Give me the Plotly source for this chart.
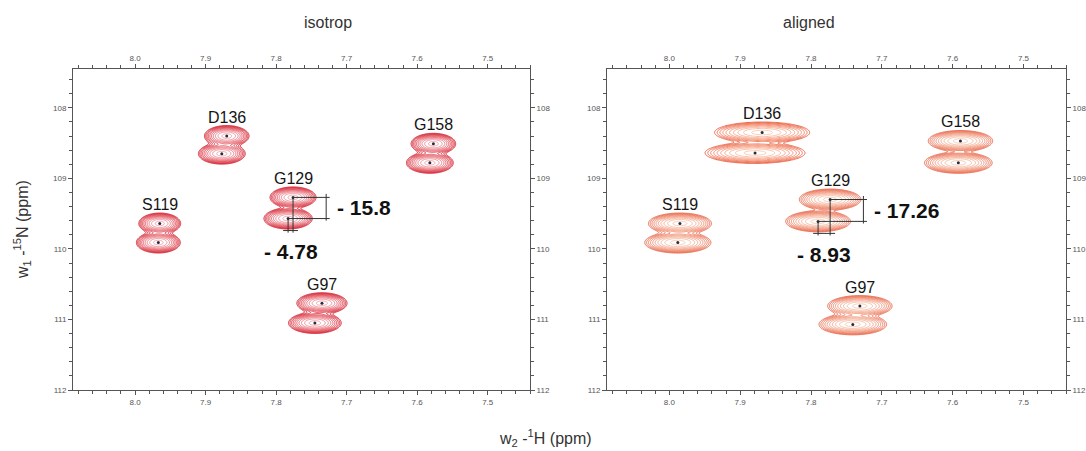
import numpy as np
import plotly.graph_objects as go

W, H = 1086, 451

peak_names = ["S119", "D136", "G129", "G158", "G97"]

# isotrop spectrum: 1H / 15N positions (ppm) of upper and lower doublet components
iso_h_upper = [7.965, 7.870, 7.776, 7.577, 7.735]
iso_n_upper = [109.64, 108.40, 109.27, 108.51, 110.77]
iso_h_lower = [7.967, 7.877, 7.783, 7.582, 7.745]
iso_n_lower = [109.91, 108.65, 109.57, 108.78, 111.05]
iso_h_halfwidth = [0.030, 0.032, 0.033, 0.032, 0.036]

# aligned spectrum
ali_h_upper = [7.985, 7.869, 7.773, 7.589, 7.731]
ali_n_upper = [109.64, 108.35, 109.30, 108.47, 110.81]
ali_h_lower = [7.988, 7.879, 7.790, 7.592, 7.741]
ali_n_lower = [109.91, 108.64, 109.61, 108.78, 111.07]
ali_h_halfwidth = [0.045, 0.068, 0.044, 0.046, 0.046]

n_halfheight = 0.15

iso_couplings = ["- 15.8", "- 4.78"]
ali_couplings = ["- 17.26", "- 8.93"]
coupled_peak = "G129"

panel_titles = ["isotrop", "aligned"]
h_range = [8.088, 7.44]
n_range = [112, 107.45]

# layout geometry (pixels)
PX_L = [73, 607]
PX_R = [530, 1066]
PY_T, PY_B = 69, 390

fig = go.Figure()

LEVELS = dict(start=0.15, end=3.2, size=0.33, coloring="lines", showlabels=False)


def add_panel(k, hu, nu, hl, nl, hw, colors, couplings):
    xa = "x" if k == 0 else "x2"
    ya = "y" if k == 0 else "y2"
    for i in range(len(peak_names)):
        r_out = np.sqrt(2 * 3.2)
        sxu = hw[i] / r_out
        sxl = hw[i] * 1.05 / r_out
        sy = n_halfheight / r_out
        xs = np.linspace(min(hu[i], hl[i]) - 4.5 * sxl, max(hu[i], hl[i]) + 4.5 * sxl, 170)
        ys = np.linspace(nu[i] - 4.5 * sy, nl[i] + 4.5 * sy, 160)
        X, Y = np.meshgrid(xs, ys)
        I = np.exp(-0.5 * (((X - hu[i]) / sxu) ** 2 + ((Y - nu[i]) / sy) ** 2)) + \
            np.exp(-0.5 * (((X - hl[i]) / sxl) ** 2 + ((Y - nl[i]) / sy) ** 2))
        Z = -np.log(np.maximum(I, 1e-12))
        fig.add_trace(go.Contour(
            x=xs, y=ys, z=Z, xaxis=xa, yaxis=ya, contours=LEVELS,
            colorscale=colors, zmin=0, zmax=3.2, showscale=False,
            line=dict(width=1), hoverinfo="skip"))
    fig.add_trace(go.Scatter(
        x=hu + hl, y=nu + nl, mode="markers", xaxis=xa, yaxis=ya,
        marker=dict(size=3, color="#2a2a3a"), hoverinfo="skip", showlegend=False))
    # peak labels
    for i, name in enumerate(peak_names):
        fig.add_annotation(x=hu[i], y=nu[i], xref=xa, yref=ya, text=name,
                           showarrow=False, yshift=19, yanchor="middle",
                           font=dict(family="Liberation Sans, Arial", size=16, color="#151515"))
    # coupling brackets on G129
    j = peak_names.index(coupled_peak)
    xu, yu, xl, yl = hu[j], nu[j], hl[j], nl[j]
    vx = xu - 0.047
    lc = dict(color="#333333", width=1)
    shapes = [
        (xu, yu, vx - 0.005, yu),
        (xl, yl, vx - 0.005, yl),
        (vx, yu - 0.05, vx, yl + 0.03),
        (xu, yu, xu, yl + 0.2),
        (xl, yl, xl, yl + 0.2),
        (xl + 0.007, yl + 0.17, xu - 0.007, yl + 0.17),
    ]
    for (x0, y0, x1, y1) in shapes:
        fig.add_shape(type="line", x0=x0, y0=y0, x1=x1, y1=y1, xref=xa, yref=ya, line=lc)
    bold = dict(family="Liberation Sans, Arial", size=21, color="#111111", weight="bold")
    fig.add_annotation(x=vx, y=(yu + yl) / 2, xref=xa, yref=ya, text=couplings[0],
                       showarrow=False, xanchor="left", xshift=9, yanchor="middle", font=bold)
    fig.add_annotation(x=(xu + xl) / 2, y=yl + 0.17, xref=xa, yref=ya, text=couplings[1],
                       showarrow=False, yshift=-21, yanchor="middle", font=bold)
    # invisible anchor for overlay axes (top / right tick labels)
    fig.add_trace(go.Scatter(x=hu, y=nu, mode="markers", marker=dict(opacity=0),
                             xaxis="x3" if k == 0 else "x4", yaxis="y3" if k == 0 else "y4",
                             hoverinfo="skip", showlegend=False))


iso_colors = [[0, "#f3a0a8"], [0.5, "#e64c58"], [1, "#d41828"]]
ali_colors = [[0, "#f9c9b0"], [0.5, "#f49478"], [1, "#ea6448"]]

add_panel(0, iso_h_upper, iso_n_upper, iso_h_lower, iso_n_lower, iso_h_halfwidth, iso_colors, iso_couplings)
add_panel(1, ali_h_upper, ali_n_upper, ali_h_lower, ali_n_lower, ali_h_halfwidth, ali_colors, ali_couplings)

tickfont = dict(family="Liberation Sans, Arial", size=8, color="#555555")
axcol = "#555555"


def xax(dom, **kw):
    d = dict(domain=dom, range=h_range, showgrid=False, zeroline=False,
             tick0=8.0, dtick=0.1, tickformat=".1f", ticks="outside", ticklen=4,
             tickcolor=axcol, tickfont=tickfont, showline=True, linecolor=axcol, linewidth=1,
             minor=dict(tick0=8.0, dtick=0.02, ticks="outside", ticklen=3, tickcolor=axcol),
             automargin=False, fixedrange=True)
    d.update(kw)
    return d


def yax(dom, **kw):
    d = dict(domain=dom, range=n_range, showgrid=False, zeroline=False,
             tick0=108, dtick=1, tickformat="d", ticks="outside", ticklen=4,
             tickcolor=axcol, tickfont=tickfont, showline=True, linecolor=axcol, linewidth=1,
             minor=dict(tick0=108, dtick=0.2, ticks="outside", ticklen=3, tickcolor=axcol),
             automargin=False, fixedrange=True)
    d.update(kw)
    return d


xd = [[PX_L[0] / W, PX_R[0] / W], [PX_L[1] / W, PX_R[1] / W]]
yd = [(H - PY_B) / H, (H - PY_T) / H]

fig.update_layout(
    width=W, height=H, margin=dict(l=0, r=0, t=0, b=0),
    paper_bgcolor="white", plot_bgcolor="white", showlegend=False,
    xaxis=xax(xd[0], anchor="y", mirror=True),
    yaxis=yax(yd, anchor="x", mirror=True),
    xaxis2=xax(xd[1], anchor="y2", mirror=True),
    yaxis2=yax(yd, anchor="x2", mirror=True),
    xaxis3=xax(xd[0], overlaying="x", side="top", anchor="y", showline=False),
    yaxis3=yax(yd, overlaying="y", side="right", anchor="x", showline=False),
    xaxis4=xax(xd[1], overlaying="x2", side="top", anchor="y2", showline=False),
    yaxis4=yax(yd, overlaying="y2", side="right", anchor="x2", showline=False),
)

for k, t in enumerate(panel_titles):
    fig.add_annotation(x=(xd[k][0] + xd[k][1]) / 2, y=1 - 22 / H, xref="paper", yref="paper",
                       text=t, showarrow=False, yanchor="middle",
                       font=dict(family="Liberation Sans, Arial", size=16, color="#333333"))

fig.add_annotation(x=545 / W, y=(H - 438) / H, xref="paper", yref="paper",
                   text="w<sub>2</sub> -<sup>1</sup>H (ppm)", showarrow=False, yanchor="middle",
                   font=dict(family="Liberation Sans, Arial", size=16, color="#333333"))
fig.add_annotation(x=22 / W, y=(H - 230) / H, xref="paper", yref="paper", textangle=-90,
                   text="w<sub>1</sub> -<sup>15</sup>N (ppm)", showarrow=False,
                   xanchor="center", yanchor="middle",
                   font=dict(family="Liberation Sans, Arial", size=16, color="#333333"))

fig.write_html("out.html")
